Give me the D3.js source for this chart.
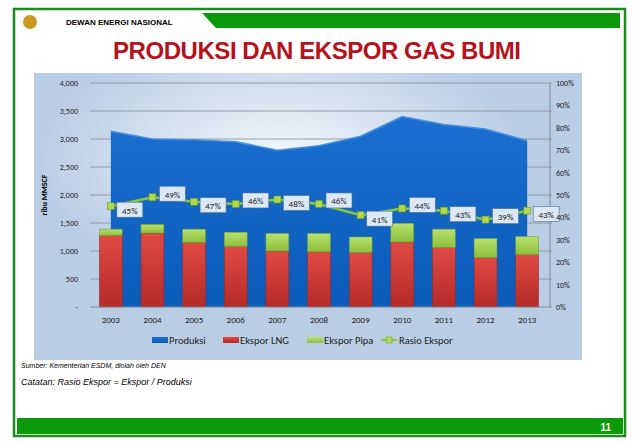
<!DOCTYPE html>
<html><head><meta charset="utf-8">
<script src="https://cdn.jsdelivr.net/npm/d3@7"></script>
<style>body{margin:0;background:#fff}svg{display:block;font-family:Carlito,'Liberation Sans',sans-serif}</style>
</head><body><svg id="c" width="638" height="442"></svg>
<script>
var years = ['2003','2004','2005','2006','2007','2008','2009','2010','2011','2012','2013'];
var produksi = [3140, 3000, 2985, 2950, 2800, 2880, 3050, 3400, 3260, 3180, 2970];
var eksporLNG = [1275, 1320, 1150, 1080, 1000, 985, 970, 1160, 1060, 880, 935];
var eksporPipa = [115, 155, 240, 255, 315, 330, 280, 335, 330, 345, 325];
var rasio = [45, 49, 47, 46, 48, 46, 41, 44, 43, 39, 43];
var leftTicks = [0, 500, 1000, 1500, 2000, 2500, 3000, 3500, 4000];
var rightTicks = [0, 10, 20, 30, 40, 50, 60, 70, 80, 90, 100];

var svg = d3.select('#c');
var defs = svg.append('defs');
var g1 = defs.append('linearGradient').attr('id', 'gBlue').attr('x1', 0).attr('y1', 0).attr('x2', 0).attr('y2', 1);
g1.append('stop').attr('offset', 0).attr('stop-color', '#1a6fd0');
g1.append('stop').attr('offset', 1).attr('stop-color', '#0b5bb8');
var g2 = defs.append('linearGradient').attr('id', 'gRed').attr('x1', 0).attr('y1', 0).attr('x2', 0).attr('y2', 1);
g2.append('stop').attr('offset', 0).attr('stop-color', '#e04a44');
g2.append('stop').attr('offset', 1).attr('stop-color', '#b52a27');
var g3 = defs.append('linearGradient').attr('id', 'gGreen').attr('x1', 0).attr('y1', 0).attr('x2', 0).attr('y2', 1);
g3.append('stop').attr('offset', 0).attr('stop-color', '#b8e070');
g3.append('stop').attr('offset', 1).attr('stop-color', '#8cc03c');
var g4 = defs.append('radialGradient').attr('id', 'gGlow').attr('cx', 0.45).attr('cy', 0.3).attr('r', 0.45);
g4.append('stop').attr('offset', 0).attr('stop-color', '#f4f8fc');
g4.append('stop').attr('offset', 1).attr('stop-color', '#b9cde5');

// frame
svg.append('rect').attr('x', 14).attr('y', 9).attr('width', 611).attr('height', 427)
  .attr('fill', '#fff').attr('stroke', '#1f8a1f').attr('stroke-width', 2.5);
svg.append('path').attr('d', 'M202,13 L620,13 L620,28 L216,28 Z').attr('fill', '#0a9a0a');
svg.append('text').attr('x', 66).attr('y', 25).attr('font-size', 8).attr('font-weight', 'bold')
  .attr('font-family', 'Liberation Sans').text('DEWAN ENERGI NASIONAL');
svg.append('circle').attr('cx', 30).attr('cy', 22).attr('r', 7).attr('fill', '#c89a20');
svg.append('text').attr('x', 317).attr('y', 59).attr('text-anchor', 'middle').attr('font-size', 24)
  .attr('font-weight', 'bold').attr('font-family', 'Liberation Sans').attr('fill', '#b5121b')
  .attr('textLength', 408).text('PRODUKSI DAN EKSPOR GAS BUMI');
svg.append('rect').attr('x', 17).attr('y', 418).attr('width', 606).attr('height', 16).attr('fill', '#0a9a0a');
svg.append('text').attr('x', 611).attr('y', 431).attr('text-anchor', 'end').attr('font-size', 10)
  .attr('font-weight', 'bold').attr('fill', '#fff').attr('font-family', 'Liberation Sans').text('11');

// chart panel
svg.append('rect').attr('x', 34).attr('y', 73).attr('width', 548).attr('height', 287).attr('fill', 'url(#gGlow)');

var x = d3.scaleBand().domain(years).range([90, 548]).paddingInner(0.45).paddingOuter(0.225);
var y = d3.scaleLinear().domain([0, 4000]).range([307, 83]);
var y2 = d3.scaleLinear().domain([0, 100]).range([307, 83]);
var cx = function(i) { return x(years[i]) + x.bandwidth() / 2; };

var plot = svg.append('g');
plot.selectAll('.grid').data(leftTicks.slice(1)).enter().append('line')
  .attr('x1', 90).attr('x2', 552).attr('y1', y).attr('y2', y).attr('stroke', '#7f8a96').attr('stroke-width', 0.8);

var area = d3.area().x(function(d, i) { return cx(i); }).y0(y(0)).y1(function(d) { return y(d); });
plot.append('path').datum(produksi).attr('d', area).attr('fill', 'url(#gBlue)');
plot.append('path').datum(produksi).attr('d', d3.line().x(function(d, i) { return cx(i); }).y(y))
  .attr('fill', 'none').attr('stroke', '#4a90e0').attr('stroke-width', 1.5);

var bars = plot.selectAll('.bar').data(years).enter().append('g');
bars.append('rect').attr('x', function(d) { return x(d); }).attr('width', x.bandwidth())
  .attr('y', function(d, i) { return y(eksporLNG[i]); })
  .attr('height', function(d, i) { return y(0) - y(eksporLNG[i]); })
  .attr('fill', 'url(#gRed)').attr('stroke', '#8a2a28').attr('stroke-width', 0.5);
bars.append('rect').attr('x', function(d) { return x(d); }).attr('width', x.bandwidth())
  .attr('y', function(d, i) { return y(eksporLNG[i] + eksporPipa[i]); })
  .attr('height', function(d, i) { return y(eksporLNG[i]) - y(eksporLNG[i] + eksporPipa[i]); })
  .attr('fill', 'url(#gGreen)').attr('stroke', '#6f9a30').attr('stroke-width', 0.5);

plot.append('line').attr('x1', 90).attr('x2', 552).attr('y1', y(0)).attr('y2', y(0)).attr('stroke', '#7f8a96');
plot.append('line').attr('x1', 550).attr('x2', 550).attr('y1', 83).attr('y2', 307).attr('stroke', '#7f8a96');

plot.append('path').datum(rasio).attr('d', d3.line().x(function(d, i) { return cx(i); }).y(y2))
  .attr('fill', 'none').attr('stroke', '#8cc83c').attr('stroke-width', 2.5);
var pts = plot.selectAll('.pt').data(rasio).enter().append('g')
  .attr('transform', function(d, i) { return 'translate(' + cx(i) + ',' + y2(d) + ')'; });
pts.append('rect').attr('x', -3.5).attr('y', -3.5).attr('width', 7).attr('height', 7)
  .attr('fill', '#b0d850').attr('stroke', '#6a9a20').attr('stroke-width', 0.6);
var lab = pts.append('g').attr('transform', function(d, i) { return 'translate(' + (i % 2 === 0 ? 19 : 20) + ',' + (i % 2 === 0 ? 4 : -3) + ')'; });
lab.append('rect').attr('x', -13).attr('y', -8).attr('width', 26).attr('height', 15)
  .attr('fill', '#dce8f6').attr('stroke', '#4a6f9a').attr('stroke-width', 0.6);
lab.append('text').attr('y', 3.5).attr('text-anchor', 'middle').attr('font-size', 9).attr('fill', '#222')
  .text(function(d) { return d + '%'; });

svg.append('g').selectAll('text').data(leftTicks).enter().append('text')
  .attr('x', 78).attr('y', function(d) { return y(d) + 3; }).attr('text-anchor', 'end').attr('font-size', 8).attr('fill', '#222')
  .text(function(d) { return d === 0 ? '-' : d3.format(',')(d); });
svg.append('g').selectAll('text').data(rightTicks).enter().append('text')
  .attr('x', 556).attr('y', function(d) { return y2(d) + 3; }).attr('font-size', 8).attr('fill', '#222')
  .text(function(d) { return d + '%'; });
svg.append('g').selectAll('text').data(years).enter().append('text')
  .attr('x', function(d, i) { return cx(i); }).attr('y', 323).attr('text-anchor', 'middle').attr('font-size', 9).attr('fill', '#222')
  .text(function(d) { return d; });
svg.append('text').attr('transform', 'translate(47,195) rotate(-90)').attr('text-anchor', 'middle')
  .attr('font-size', 8).attr('font-weight', 'bold').text('ribu MMSCF');

// legend
var leg = [['Produksi', 'url(#gBlue)', 152], ['Ekspor LNG', 'url(#gRed)', 223], ['Ekspor Pipa', 'url(#gGreen)', 307]];
leg.forEach(function(l) {
  svg.append('rect').attr('x', l[2]).attr('y', 337).attr('width', 16).attr('height', 6).attr('fill', l[1]);
  svg.append('text').attr('x', l[2] + 17).attr('y', 343.5).attr('font-size', 10.5).attr('fill', '#222').text(l[0]);
});
svg.append('line').attr('x1', 381).attr('x2', 397).attr('y1', 340).attr('y2', 340).attr('stroke', '#8cc83c').attr('stroke-width', 2);
svg.append('rect').attr('x', 386).attr('y', 337).attr('width', 6).attr('height', 6).attr('fill', '#b0d850').attr('stroke', '#6a9a20').attr('stroke-width', 0.5);
svg.append('text').attr('x', 399).attr('y', 343.5).attr('font-size', 10.5).attr('fill', '#222').text('Rasio Ekspor');

svg.append('text').attr('x', 21).attr('y', 368).attr('font-size', 7).attr('font-style', 'italic')
  .attr('font-family', 'Liberation Sans').text('Sumber: Kementerian ESDM, diolah oleh DEN');
svg.append('text').attr('x', 21).attr('y', 385).attr('font-size', 9).attr('font-style', 'italic')
  .attr('font-family', 'Liberation Sans').text('Catatan: Rasio Ekspor = Ekspor / Produksi');
</script></body></html>
